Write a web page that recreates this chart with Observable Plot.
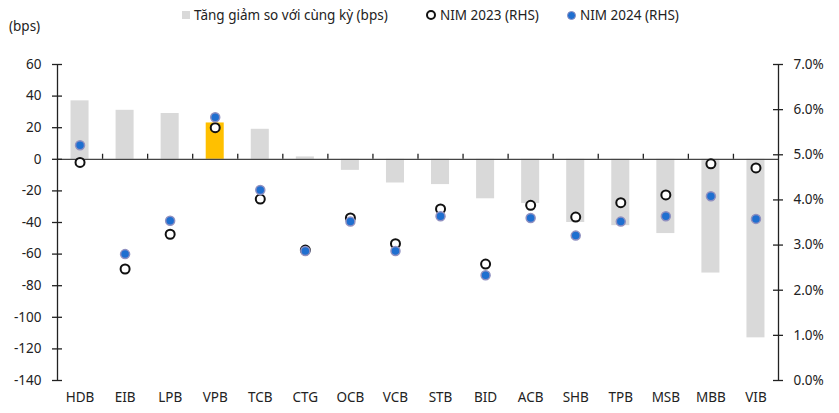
<!DOCTYPE html>
<html>
<head>
<meta charset="utf-8">
<script src="https://cdn.jsdelivr.net/npm/d3@7"></script>
<script src="https://cdn.jsdelivr.net/npm/@observablehq/plot@0.6"></script>
<style>
  body { margin: 0; background: #fff; font-family: "Noto Sans", sans-serif; }
  #wrap { position: relative; width: 839px; height: 413px; }
  #legend { position: absolute; top: 4px; left: 0; width: 839px; font-size: 13.5px; color: #222; }
  .li { position: absolute; top: 0; white-space: nowrap; line-height: 22px; }
  .sw { display: inline-block; vertical-align: middle; margin-right: 4px; position: relative; top: -1px; }
  #bps { position: absolute; left: 9px; top: 17px; font-size: 13.5px; color: #222; }
</style>
</head>
<body>
<div id="wrap">
  <div id="chart"></div>
  <div id="legend">
    <span class="li" style="left:182px"><span class="sw" style="width:8px;height:8px;background:#d9d9d9"></span>Tăng giảm so với cùng kỳ (bps)</span>
    <span class="li" style="left:426px"><span class="sw" style="width:6px;height:6px;border:2px solid #111;border-radius:50%;background:#fff"></span>NIM 2023 (RHS)</span>
    <span class="li" style="left:567px"><span class="sw" style="width:7px;height:7px;border:1.5px solid #9090c0;border-radius:50%;background:#1f6fd0"></span>NIM 2024 (RHS)</span>
  </div>
  <div id="bps">(bps)</div>
</div>
<script>
const banks = ["HDB","EIB","LPB","VPB","TCB","CTG","OCB","VCB","STB","BID","ACB","SHB","TPB","MSB","MBB","VIB"];
const changeBps = [37, 31, 29, 23, 19, 1.5, -7, -15, -16, -25, -28, -40, -42, -47, -72, -113];
const nim2023 = [4.83, 2.47, 3.24, 5.60, 4.02, 2.89, 3.60, 3.03, 3.80, 2.58, 3.88, 3.62, 3.94, 4.11, 4.80, 4.71];
const nim2024 = [5.21, 2.80, 3.54, 5.83, 4.22, 2.87, 3.52, 2.87, 3.64, 2.33, 3.60, 3.21, 3.52, 3.64, 4.08, 3.58];
const leftTicks = [60, 40, 20, 0, -20, -40, -60, -80, -100, -120, -140];
const rightTicks = [0, 1, 2, 3, 4, 5, 6, 7];
const highlight = "VPB";

// map right-axis percent onto the left-axis bps domain [-140, 60] <-> [0%, 7%]
const yMin = -140, yMax = 60, pMax = 7;
const toBps = p => yMin + p * (yMax - yMin) / pMax;

const data = banks.map((b, i) => ({
  i, bank: b, chg: changeBps[i], n23: toBps(nim2023[i]), n24: toBps(nim2024[i])
}));
const n = banks.length;
const xLo = -0.5, xHi = n - 0.5;
const tickHalf = 0.111; // ~5px in x units
const boundaries = d3.range(0.5, n - 0.5, 1);

const chart = Plot.plot({
  width: 839,
  height: 413,
  marginTop: 64,
  marginBottom: 33,
  marginLeft: 57,
  marginRight: 61,
  style: { fontFamily: "Noto Sans, sans-serif", fontSize: "13.5px", color: "#222", background: "transparent" },
  x: { type: "linear", domain: [xLo, xHi], axis: null },
  y: { domain: [yMin, yMax], axis: null },
  marks: [
    Plot.rectY(data, {
      x1: d => d.i - 0.2, x2: d => d.i + 0.2, y1: 0, y2: "chg",
      fill: d => d.bank === highlight ? "#ffc000" : "#d9d9d9"
    }),
    Plot.ruleY([0], { x1: xLo, x2: xHi, stroke: "#444", strokeWidth: 1.3 }),
    Plot.ruleX(boundaries, { y1: 0, y2: 3.2, stroke: "#222", strokeWidth: 1.3 }),
    Plot.ruleX([xLo], { y1: yMin, y2: yMax, stroke: "#222", strokeWidth: 1.3 }),
    Plot.ruleX([xHi], { y1: yMin, y2: yMax, stroke: "#222", strokeWidth: 1.3 }),
    Plot.ruleY(leftTicks, { x1: xLo - tickHalf, x2: xLo + tickHalf, stroke: "#222", strokeWidth: 1.3 }),
    Plot.ruleY(rightTicks.map(toBps), { x1: xHi - tickHalf, x2: xHi + tickHalf, stroke: "#222", strokeWidth: 1.3 }),
    Plot.axisY({ anchor: "left", label: null, ticks: leftTicks, tickSize: 0, tickPadding: 16, tickFormat: d => String(d).replace("−", "-") }),
    Plot.axisY({ anchor: "right", label: null, ticks: rightTicks.map(toBps), tickSize: 0, tickPadding: 15,
      tickFormat: v => ((v - yMin) * pMax / (yMax - yMin)).toFixed(1) + "%" }),
    Plot.axisX({ anchor: "bottom", label: null, ticks: data.map(d => d.i), tickSize: 0, tickPadding: 12, tickFormat: i => banks[Math.round(i)] }),
    Plot.dot(data, { x: "i", y: "n23", r: 4.5, fill: "#fff", stroke: "#111", strokeWidth: 2 }),
    Plot.dot(data, { x: "i", y: "n24", r: 4.5, fill: "#1f6fd0", stroke: "#9090c0", strokeWidth: 1.5 })
  ]
});
document.getElementById("chart").appendChild(chart);
</script>
</body>
</html>
